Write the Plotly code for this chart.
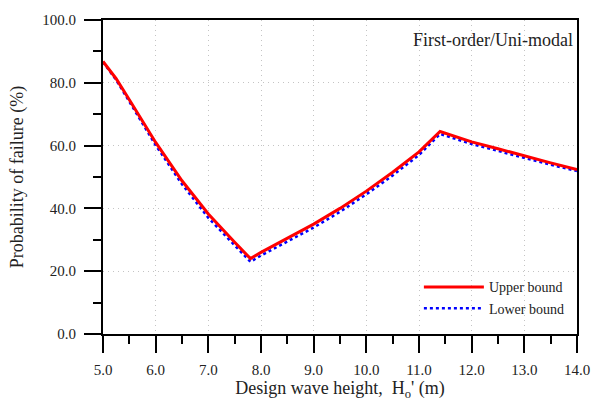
import plotly.graph_objects as go

wave_height = [5.0, 5.25, 5.5, 6.0, 6.5, 7.0, 7.5, 7.8, 8.0, 8.5, 9.0, 9.5, 10.0,
               10.5, 11.0, 11.4, 12.0, 12.5, 13.0, 13.5, 14.0]
upper_bound = [86.8, 81.3, 74.6, 61.0, 48.8, 38.2, 29.2, 24.0, 26.0, 30.5, 35.0, 40.0, 45.5,
               51.5, 58.0, 64.5, 61.2, 59.0, 56.7, 54.5, 52.4]
lower_bound = [86.6, 80.9, 74.0, 60.1, 47.7, 37.0, 28.2, 23.0, 25.0, 29.4, 33.9, 38.9, 44.5,
               50.5, 57.0, 63.7, 60.5, 58.3, 56.0, 53.9, 51.9]

FONT = "Times New Roman, Liberation Serif, serif"

fig = go.Figure()
fig.add_trace(go.Scatter(x=wave_height, y=lower_bound, mode="lines", name="Lower bound",
                         line=dict(color="blue", width=2.5, dash="dot")))
fig.add_trace(go.Scatter(x=wave_height, y=upper_bound, mode="lines", name="Upper bound",
                         line=dict(color="red", width=3)))

axis_common = dict(
    showline=True, linecolor="black", linewidth=2, mirror=True,
    ticks="outside", ticklen=17, tickwidth=2, tickcolor="black",
    showgrid=True, gridcolor="#c4c4c4", griddash="1px,4px", gridwidth=1,
    zeroline=False, tickformat=".1f",
    tickfont=dict(family=FONT, size=15, color="#222"),
)

fig.update_xaxes(range=[5, 14], dtick=1, **axis_common, ticklabelstandoff=4,
                 minor=dict(dtick=0.5, ticks="outside", ticklen=8, tickwidth=2,
                            tickcolor="black", showgrid=False),
                 title=dict(text="Design wave height,  H<sub>o</sub>' (m)",
                            font=dict(family=FONT, size=18, color="#222"), standoff=0))
fig.update_yaxes(range=[0, 100], dtick=20, **axis_common, ticklabelstandoff=5,
                 minor=dict(dtick=10, ticks="outside", ticklen=8, tickwidth=2,
                            tickcolor="black", showgrid=False),
                 title=dict(text="Probability of failure (%)",
                            font=dict(family=FONT, size=18, color="#222"), standoff=14))

fig.add_annotation(text="First-order/Uni-modal", xref="paper", yref="paper",
                   x=0.995, y=0.975, xanchor="right", yanchor="top", showarrow=False,
                   font=dict(family=FONT, size=18, color="#222"))

fig.update_layout(
    width=602, height=403,
    margin=dict(l=103, r=15, t=15, b=64),
    paper_bgcolor="white", plot_bgcolor="white",
    legend=dict(x=0.985, y=0.115, xanchor="right", yanchor="middle",
                traceorder="reversed", bgcolor="rgba(0,0,0,0)", tracegroupgap=0,
                font=dict(family=FONT, size=14, color="#222"), itemwidth=60),
    showlegend=True,
)

fig.write_html("out.html")
